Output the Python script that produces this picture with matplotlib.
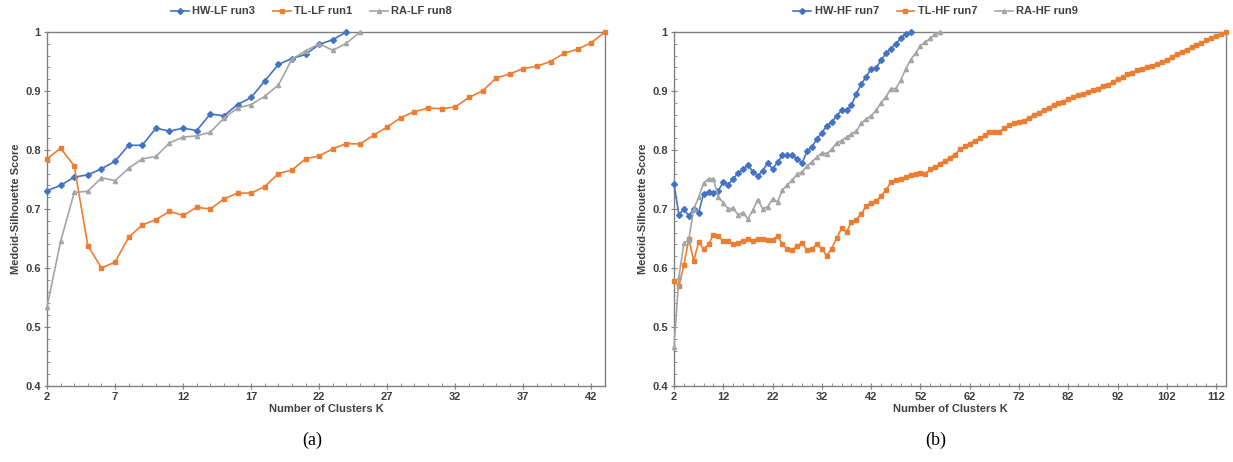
import numpy as np
import matplotlib
matplotlib.use('Agg')
import matplotlib.pyplot as plt
from matplotlib.ticker import MultipleLocator, FixedLocator

plt.rcParams['font.family'] = ['Liberation Sans', 'DejaVu Sans']

# (a) low-frequency runs
k_hw_lf = list(range(2, 25))
hw_lf = [0.731, 0.740, 0.754, 0.758, 0.768, 0.781, 0.808, 0.808, 0.837, 0.832, 0.837,
         0.833, 0.861, 0.858, 0.877, 0.889, 0.917, 0.945, 0.955, 0.962, 0.979, 0.987, 1.0]
k_tl_lf = list(range(2, 44))
tl_lf = [0.785, 0.803, 0.773, 0.638, 0.600, 0.610, 0.652, 0.673, 0.682, 0.696, 0.689,
         0.703, 0.700, 0.717, 0.727, 0.727, 0.738, 0.760, 0.766, 0.785, 0.790,
         0.802, 0.811, 0.810, 0.825, 0.839, 0.855, 0.865, 0.871, 0.870, 0.873, 0.889,
         0.900, 0.922, 0.929, 0.938, 0.942, 0.950, 0.964, 0.971, 0.982, 1.0]
k_ra_lf = list(range(2, 26))
ra_lf = [0.534, 0.645, 0.728, 0.730, 0.753, 0.748, 0.769, 0.785, 0.789, 0.812, 0.822,
         0.824, 0.830, 0.854, 0.871, 0.877, 0.891, 0.910, 0.954, 0.968, 0.980, 0.969,
         0.981, 1.0]

# (b) high-frequency runs
k_hw_hf = list(range(2, 51))
hw_hf = [0.742, 0.690, 0.700, 0.688, 0.700, 0.694, 0.726, 0.729, 0.727, 0.731, 0.746,
         0.741, 0.751, 0.761, 0.767, 0.775, 0.763, 0.756, 0.765, 0.778, 0.768, 0.779,
         0.791, 0.791, 0.791, 0.785, 0.778, 0.798, 0.805, 0.819, 0.829, 0.841, 0.847,
         0.858, 0.867, 0.867, 0.876, 0.895, 0.912, 0.924, 0.938, 0.939, 0.952, 0.964,
         0.972, 0.980, 0.989, 0.997, 1.0]
k_tl_hf = list(range(2, 115))
tl_hf = [0.578, 0.570, 0.605, 0.649, 0.612, 0.644, 0.632, 0.640, 0.656, 0.654, 0.645,
         0.646, 0.640, 0.642, 0.646, 0.649, 0.646, 0.650, 0.650, 0.647, 0.648, 0.654,
         0.640,
         0.632, 0.630, 0.638, 0.642, 0.630, 0.633, 0.640, 0.632, 0.621, 0.633, 0.651,
         0.667, 0.661, 0.678, 0.682, 0.692, 0.705, 0.711, 0.713, 0.722, 0.732, 0.745,
         0.749, 0.751, 0.754, 0.757, 0.759, 0.761, 0.760, 0.767, 0.771,
         0.777, 0.782, 0.787, 0.792, 0.801, 0.807, 0.811, 0.816, 0.820, 0.825, 0.831,
         0.831, 0.831, 0.837, 0.842, 0.845, 0.847, 0.850, 0.854, 0.859, 0.863, 0.867,
         0.872, 0.876, 0.880, 0.882, 0.886, 0.890,
         0.894, 0.895, 0.898, 0.901, 0.904, 0.908, 0.911, 0.915, 0.920, 0.924, 0.928,
         0.931, 0.935, 0.937, 0.940, 0.942, 0.945, 0.949, 0.953, 0.958, 0.962, 0.966,
         0.970, 0.974, 0.978, 0.981, 0.986, 0.990, 0.994, 0.997, 1.0]
k_ra_hf = list(range(2, 57))
ra_hf = [0.466, 0.585, 0.642, 0.648, 0.700, 0.720, 0.744, 0.751, 0.751, 0.720, 0.711,
         0.700, 0.702, 0.690, 0.694, 0.683, 0.698, 0.716, 0.700, 0.704, 0.717, 0.712,
         0.732, 0.741, 0.749, 0.759, 0.763, 0.773, 0.780, 0.788, 0.795, 0.794, 0.801,
         0.812, 0.816, 0.822, 0.827, 0.832, 0.845, 0.853, 0.858, 0.867, 0.880, 0.890,
         0.904, 0.904, 0.918, 0.937, 0.953, 0.964, 0.977, 0.983, 0.989, 0.997, 1.0]

BLUE = '#4472C4'
ORANGE = '#ED7D31'
GRAY = '#A5A5A5'
TXT = '#404040'

fig = plt.figure(figsize=(12.33, 4.62), dpi=100)
ax1 = fig.add_axes([47 / 1233, 76 / 462, 558 / 1233, 354 / 462])
ax2 = fig.add_axes([674 / 1233, 76 / 462, 552 / 1233, 354 / 462])


def draw_panel(ax, series, xmax, major, minor, caption):
    for k, v, col, mk, lab in series:
        ax.plot(k, v, color=col, marker=mk, markersize=3.0, linewidth=1.2,
                label=lab, clip_on=False, zorder=3)
    ax.set_xlim(2, xmax)
    ax.set_ylim(0.4, 1.0)
    ax.xaxis.set_major_locator(FixedLocator(list(range(2, xmax, major))))
    ax.xaxis.set_minor_locator(MultipleLocator(minor))
    ax.yaxis.set_minor_locator(MultipleLocator(0.02))
    ax.set_yticks([0.4, 0.5, 0.6, 0.7, 0.8, 0.9, 1.0])
    ax.set_yticklabels(['0.4', '0.5', '0.6', '0.7', '0.8', '0.9', '1'])
    for sp in ax.spines.values():
        sp.set_color('#808080')
        sp.set_linewidth(1.0)
    ax.tick_params(which='major', direction='inout', length=5, width=0.8,
                   color='#808080', labelsize=8, labelcolor=TXT, pad=2)
    ax.tick_params(which='minor', direction='in', length=2.5, width=0.6,
                   color='#808080')
    for lbl in ax.get_xticklabels() + ax.get_yticklabels():
        lbl.set_fontweight('bold')
    ax.set_xlabel('Number of Clusters K', fontsize=8, fontweight='bold',
                  color=TXT, labelpad=1)
    ax.set_ylabel('Medoid-Silhouette Score', fontsize=8, fontweight='bold',
                  color=TXT, labelpad=3)
    leg = ax.legend(loc='center', bbox_to_anchor=(0.474, 1.058), ncol=3,
                    frameon=False, handlelength=1.6, handletextpad=0.3,
                    columnspacing=1.6, borderaxespad=0.0,
                    prop={'size': 8, 'weight': 'bold'})
    for t in leg.get_texts():
        t.set_color(TXT)
    ax.text(0.475, -0.153, caption, transform=ax.transAxes, ha='center',
            va='center', fontsize=13, family='Liberation Serif')


draw_panel(ax1, [(k_hw_lf, hw_lf, BLUE, 'D', 'HW-LF run3'),
                 (k_tl_lf, tl_lf, ORANGE, 's', 'TL-LF run1'),
                 (k_ra_lf, ra_lf, GRAY, '^', 'RA-LF run8')],
           43, 5, 1, '(a)')
draw_panel(ax2, [(k_hw_hf, hw_hf, BLUE, 'D', 'HW-HF run7'),
                 (k_tl_hf, tl_hf, ORANGE, 's', 'TL-HF run7'),
                 (k_ra_hf, ra_hf, GRAY, '^', 'RA-HF run9')],
           114, 10, 2, '(b)')

fig.savefig('out.png', dpi=100)
